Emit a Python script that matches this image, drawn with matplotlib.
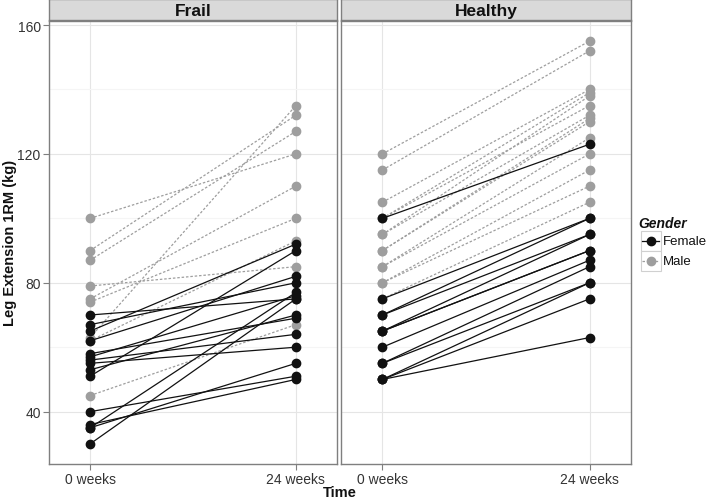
import matplotlib.pyplot as plt
from matplotlib.lines import Line2D
from matplotlib.patches import Rectangle

plt.rcParams['font.family'] = ['Liberation Sans', 'DejaVu Sans']

# data: each subject measured at 0 and 24 weeks
time_labels = ['0 weeks', '24 weeks']
panels = ['Frail', 'Healthy']

frail_f0 = [30, 35, 35, 36, 40, 51, 53, 55, 56, 57, 58, 62, 65, 67, 70]
frail_f24 = [75, 77, 55, 50, 51, 90, 70, 60, 64, 76, 69, 82, 92, 80, 75]
frail_m0 = [100, 90, 87, 79, 75, 74, 63, 62, 45]
frail_m24 = [120, 132, 127, 85, 110, 100, 135, 93, 67]

healthy_f0 = [100, 75, 70, 70, 65, 65, 65, 60, 55, 55, 50, 50, 50]
healthy_f24 = [123, 100, 100, 95, 95, 90, 90, 87, 85, 80, 80, 75, 63]
healthy_m0 = [120, 115, 105, 100, 100, 95, 95, 90, 90, 85, 85, 80, 80, 75]
healthy_m24 = [155, 152, 140, 139, 135, 138, 132, 131, 130, 125, 120, 115, 110, 105]

female_col = '#111111'
male_col = '#9E9E9E'

fig = plt.figure(figsize=(7.09, 5.02), dpi=100)
W, H = 709, 502


def px(x0, y0, x1, y1):
    return [x0 / W, 1 - y1 / H, (x1 - x0) / W, (y1 - y0) / H]


def draw_panel(ax, f0, f24, m0, m24, title, left):
    for a, b in zip(m0, m24):
        ax.plot([0, 1], [a, b], color=male_col, lw=0.9, ls=(0, (2, 1.5)),
                marker='o', ms=6, mec=male_col, mfc=male_col, zorder=2)
    for a, b in zip(f0, f24):
        ax.plot([0, 1], [a, b], color=female_col, lw=0.9, ls='-',
                marker='o', ms=6, mec=female_col, mfc=female_col, zorder=3)
    ax.set_xlim(-0.2, 1.2)
    ax.set_ylim(23.75, 161.25)
    ax.set_xticks([0, 1])
    ax.set_xticklabels(time_labels)
    ax.set_yticks([40, 80, 120, 160])
    ax.set_yticks([60, 100, 140], minor=True)
    ax.grid(True, which='major', color='#E5E5E5', lw=0.8, zorder=0)
    ax.grid(True, which='minor', axis='y', color='#F5F5F5', lw=0.8, zorder=0)
    ax.set_axisbelow(True)
    for s in ax.spines.values():
        s.set_color('#7F7F7F')
        s.set_linewidth(1.0)
    ax.tick_params(axis='both', which='major', color='#7F7F7F', length=4,
                   labelsize=10, labelcolor='#333333', width=0.8, pad=2)
    ax.tick_params(axis='y', which='minor', length=0)
    if not left:
        ax.tick_params(axis='y', which='both', left=False, labelleft=False)
    # strip on top
    bb = ax.get_position()
    sax = fig.add_axes([bb.x0, 1 - 20.5 / H, bb.width, 20.5 / H])
    sax.set_facecolor('#D9D9D9')
    sax.set_xticks([])
    sax.set_yticks([])
    for s in sax.spines.values():
        s.set_color('#7F7F7F')
        s.set_linewidth(1.0)
    sax.text(0.5, 0.45, title, ha='center', va='center', fontsize=12.5,
             fontweight='bold', color='#111111', transform=sax.transAxes)


ax1 = fig.add_axes(px(49, 22, 337, 465))
ax2 = fig.add_axes(px(341, 22, 631, 465))
draw_panel(ax1, frail_f0, frail_f24, frail_m0, frail_m24, panels[0], True)
draw_panel(ax2, healthy_f0, healthy_f24, healthy_m0, healthy_m24, panels[1], False)

fig.text(10 / W, 1 - 243 / H, 'Leg Extension 1RM (kg)', rotation=90,
         ha='center', va='center', fontsize=10.5, fontweight='bold', color='#111111')
fig.text(340 / W, 1 - 493 / H, 'Time', ha='center', va='center',
         fontsize=10.5, fontweight='bold', color='#111111')

# legend drawn in pixel space
lax = fig.add_axes([0, 0, 1, 1], facecolor='none')
lax.set_xlim(0, W)
lax.set_ylim(H, 0)
lax.axis('off')
lax.text(638, 224, 'Gender', ha='left', va='center', fontsize=10,
         fontweight='bold', fontstyle='italic', color='#111111')
keys = [('Female', female_col, '-'), ('Male', male_col, (0, (2, 1.5)))]
for i, (lab, col, ls) in enumerate(keys):
    y0 = 232 + i * 20
    lax.add_patch(Rectangle((640.5, y0), 20, 20, fc='white', ec='#D0D0D0', lw=0.8))
    lax.add_line(Line2D([642, 659], [y0 + 10, y0 + 10], color=col, lw=0.9, ls=ls))
    lax.plot([650.5], [y0 + 10], 'o', color=col, ms=6)
    lax.text(663, y0 + 10.5, lab, ha='left', va='center', fontsize=9.5, color='#111111')

fig.savefig('out.png', dpi=100)
